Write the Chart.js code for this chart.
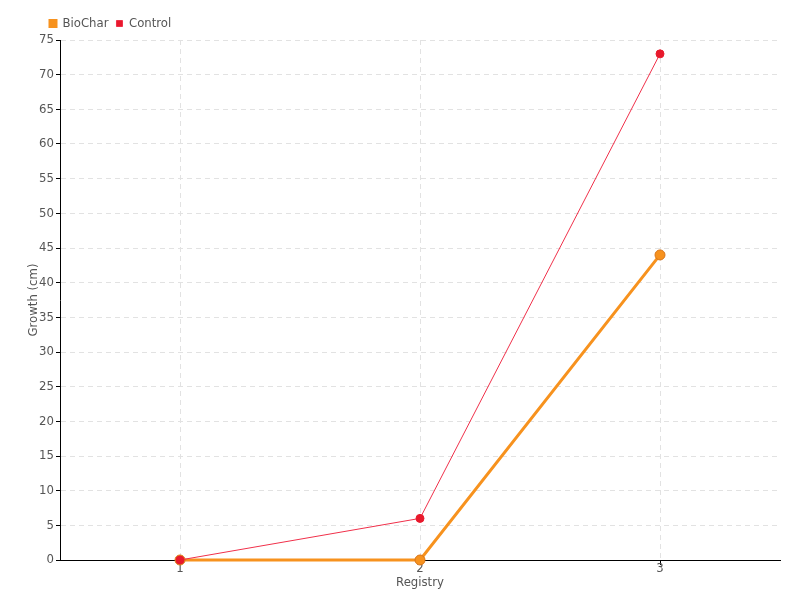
<!DOCTYPE html>
<html>
<head>
<meta charset="utf-8">
<script src="https://cdn.jsdelivr.net/npm/chart.js@4/dist/chart.umd.min.js"></script>
<style>
  html, body { margin: 0; padding: 0; background: #fff; }
  #wrap { width: 800px; height: 600px; }
</style>
</head>
<body>
<div id="wrap"><canvas id="growthChart"></canvas></div>
<script>
// Data
const registry = ['1', '2', '3'];
const bioChar = [0, 0, 44];
const control = [0, 6, 73];

const FONT = '"DejaVu Sans Condensed", sans-serif';
const TEXT = '#555';

const ctx = document.getElementById('growthChart').getContext('2d');

new Chart(ctx, {
    type: 'line',
    data: {
        labels: registry,
        datasets: [{
            label: 'BioChar',
            data: bioChar,
            borderColor: '#f7921e',
            backgroundColor: '#f7921e',
            pointBackgroundColor: '#f7921e',
            pointBorderColor: '#d8761a',
            pointBorderWidth: 1,
            borderWidth: 3,
            pointRadius: 5,
            tension: 0,
            clip: false,
            order: 1
        }, {
            label: 'Control',
            data: control,
            borderColor: '#f0304a',
            backgroundColor: '#e8192c',
            pointBackgroundColor: '#e8192c',
            pointBorderColor: '#e8192c',
            borderWidth: 1,
            pointRadius: 4,
            tension: 0,
            clip: false,
            order: 0
        }]
    },
    options: {
        responsive: true,
        maintainAspectRatio: false,
        animation: false,
        layout: { padding: { left: 26, right: 20, top: 9, bottom: 0 } },
        plugins: {
            legend: {
                align: 'start',
                labels: {
                    boxWidth: 6,
                    boxHeight: 6,
                    padding: 8,
                    color: TEXT,
                    font: { family: FONT, size: 13 },
                    sort: (a, b) => a.datasetIndex - b.datasetIndex
                }
            },
            tooltip: { enabled: false }
        },
        scales: {
            x: {
                offset: true,
                grid: {
                    offset: false,
                    color: '#e2e2e2',
                    tickColor: '#000',
                    tickLength: 5
                },
                border: { color: '#000', width: 1, dash: [5, 4] },
                ticks: { color: TEXT, padding: -4, font: { family: FONT, size: 13 } },
                title: {
                    display: true,
                    text: 'Registry',
                    color: TEXT,
                    padding: { top: 0, bottom: 10 },
                    font: { family: FONT, size: 13 }
                },
                afterFit: s => { s.height = 40; }
            },
            y: {
                min: 0,
                max: 75,
                ticks: { stepSize: 5, color: TEXT, padding: 2, font: { family: FONT, size: 13 } },
                grid: {
                    color: '#e2e2e2',
                    tickColor: '#000',
                    tickLength: 4
                },
                border: { color: '#000', width: 1, dash: [5, 4] },
                title: {
                    display: true,
                    text: 'Growth (cm)',
                    color: TEXT,
                    padding: 0,
                    font: { family: FONT, size: 13 }
                },
                afterFit: s => { s.width = 34; }
            }
        }
    },
    plugins: [{
        // nudge the legend right so it starts near the y axis
        id: 'legendShift',
        afterLayout: (chart) => {
            chart.legend.left += 16;
            chart.legend.right += 16;
        }
    }]
});
</script>
</body>
</html>
